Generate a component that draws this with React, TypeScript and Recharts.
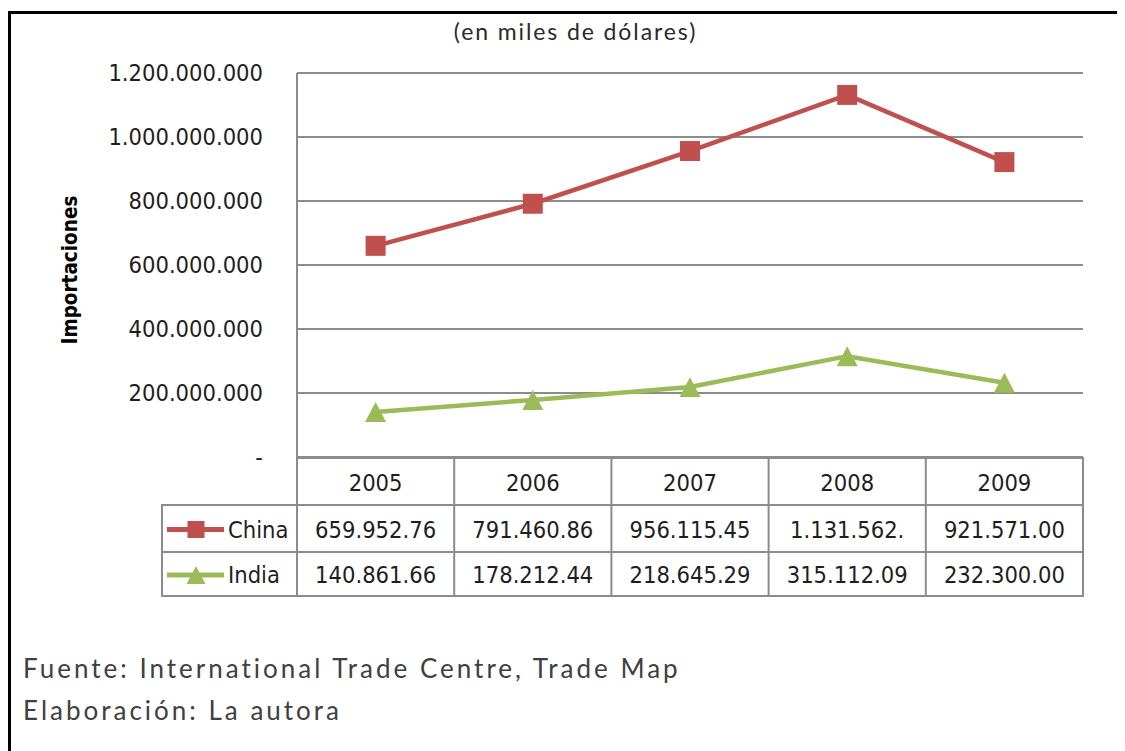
import React from 'react';
import { LineChart, Line, XAxis, YAxis, CartesianGrid } from 'recharts';

// ---- data ----
const years = ['2005', '2006', '2007', '2008', '2009'];
const china = [659952760, 791460860, 956115450, 1131562000, 921571000];
const india = [140861660, 178212440, 218645290, 315112090, 232300000];
const yTicks = [0, 200000000, 400000000, 600000000, 800000000, 1000000000, 1200000000];
const seriesNames = ['China', 'India'];
const titleText = '(en miles de dólares)';
const yLabel = 'Importaciones';
const footerLines = ['Fuente: International Trade Centre, Trade Map', 'Elaboración: La autora'];

const data = years.map((y, i) => ({ year: y, China: china[i], India: india[i] }));

// ---- layout ----
const W = 1117;
const H = 600;
const M = { top: 65, right: 42, left: 69, bottom: 6 };
const Y_W = 220;
const X_H = 145;
const PLOT_W = W - M.left - M.right - Y_W;
const BW = PLOT_W / years.length;
const HEADER_W = 135;

const CHINA_COLOR = '#C0504D';
const INDIA_COLOR = '#9BBB59';
const GRID = '#8c8c8c';
const FONT = "'DejaVu Sans Condensed', 'Noto Sans', sans-serif";
const FS = 23.5;
const TEXT = '#1e1e1e';

const fmt = (v: number) => (v === 0 ? '-' : String(v).replace(/\B(?=(\d{3})+(?!\d))/g, '.'));
const cell = (v: number) => fmt(v).slice(0, 10);

const Square = ({ cx, cy, s, color }: any) => (
  <rect x={cx - s / 2} y={cy - s / 2} width={s} height={s} fill={color} />
);
const Tri = ({ cx, cy, s, color }: any) => (
  <path
    d={`M${cx},${cy - s * 0.47} L${cx + s / 2},${cy + s * 0.48} L${cx - s / 2},${cy + s * 0.48} Z`}
    fill={color}
  />
);

const SquareDot = (p: any) =>
  p.cx == null ? <g key={p.key} /> : <Square key={p.key} cx={p.cx} cy={p.cy} s={20} color={CHINA_COLOR} />;
const TriDot = (p: any) =>
  p.cx == null ? <g key={p.key} /> : <Tri key={p.key} cx={p.cx} cy={p.cy} s={21} color={INDIA_COLOR} />;

const TableTick = (props: any) => {
  const { x, y, index } = props;
  const left = x - BW / 2;
  const right = x + BW / 2;
  const r0 = y + 1;
  const r1 = r0 + 47;
  const r2 = r1 + 47;
  const r3 = r2 + 44;
  const ln = { stroke: GRID, strokeWidth: 2 };
  const txt = (tx: number, ty: number, s: string, anchor: any = 'middle') => (
    <text x={tx} y={ty + 8.5} textAnchor={anchor} fontFamily={FONT} fontSize={FS} fill={TEXT}>
      {s}
    </text>
  );
  const rows = [china, india];
  return (
    <g>
      <line x1={left} x2={right} y1={r0} y2={r0} {...ln} />
      <line x1={left} x2={right} y1={r1} y2={r1} {...ln} />
      <line x1={left} x2={right} y1={r2} y2={r2} {...ln} />
      <line x1={left} x2={right} y1={r3} y2={r3} {...ln} />
      <line x1={left} x2={left} y1={r0 - 1} y2={r3 + 1} {...ln} />
      {index === years.length - 1 && <line x1={right} x2={right} y1={r0 - 1} y2={r3 + 1} {...ln} />}
      {txt(x, (r0 + r1) / 2 + 1, years[index])}
      {txt(x, (r1 + r2) / 2 + 1, cell(rows[0][index]))}
      {txt(x, (r2 + r3) / 2, cell(rows[1][index]))}
      {index === 0 && (
        <g>
          <line x1={left - HEADER_W} x2={left} y1={r1} y2={r1} {...ln} />
          <line x1={left - HEADER_W} x2={left} y1={r2} y2={r2} {...ln} />
          <line x1={left - HEADER_W} x2={left} y1={r3} y2={r3} {...ln} />
          <line x1={left - HEADER_W} x2={left - HEADER_W} y1={r1 - 1} y2={r3 + 1} {...ln} />
          <line x1={left - 130} x2={left - 73} y1={(r1 + r2) / 2 + 1} y2={(r1 + r2) / 2 + 1} stroke={CHINA_COLOR} strokeWidth={5} />
          <Square cx={left - 101} cy={(r1 + r2) / 2 + 1} s={17} color={CHINA_COLOR} />
          {txt(left - 69, (r1 + r2) / 2 + 1, seriesNames[0], 'start')}
          <line x1={left - 130} x2={left - 73} y1={(r2 + r3) / 2 + 1} y2={(r2 + r3) / 2 + 1} stroke={INDIA_COLOR} strokeWidth={5} />
          <Tri cx={left - 101} cy={(r2 + r3) / 2 + 1} s={19} color={INDIA_COLOR} />
          {txt(left - 69, (r2 + r3) / 2, seriesNames[1], 'start')}
        </g>
      )}
    </g>
  );
};

export default function App() {
  return (
    <div style={{ position: 'relative', width: W, height: 743, overflow: 'hidden', background: '#fff' }}>
      <div
        style={{
          position: 'absolute',
          left: 0,
          top: 3,
          width: W + 10,
          height: 760,
          borderTop: '3px solid #000',
          borderLeft: '3px solid #000',
          boxSizing: 'border-box',
        }}
      />
      <div
        style={{
          position: 'absolute',
          left: 0,
          top: 9,
          width: 1135,
          textAlign: 'center',
          fontFamily: 'Lato, sans-serif',
          fontSize: 23,
          letterSpacing: 1.9,
          color: '#2a2a2a',
          lineHeight: '28px',
        }}
      >
        {titleText}
      </div>
      <div
        style={{
          position: 'absolute',
          left: 62 - 100,
          top: 262 - 14,
          width: 200,
          height: 28,
          lineHeight: '28px',
          textAlign: 'center',
          transform: 'rotate(-90deg)',
          fontFamily: FONT,
          fontWeight: 'bold',
          fontSize: 20.5,
          color: '#000',
        }}
      >
        {yLabel}
      </div>
      <div style={{ position: 'absolute', left: 0, top: 0 }}>
        <LineChart width={W} height={H} data={data} margin={M}>
          <CartesianGrid vertical={false} stroke={GRID} strokeWidth={2} />
          <XAxis
            dataKey="year"
            scale="band"
            axisLine={false}
            tickLine={false}
            tickSize={0}
            tickMargin={0}
            height={X_H}
            interval={0}
            tick={<TableTick />}
          />
          <YAxis
            width={Y_W}
            domain={[0, 1200000000]}
            ticks={yTicks}
            interval={0}
            tickFormatter={fmt}
            axisLine={{ stroke: GRID, strokeWidth: 2 }}
            tickLine={false}
            tickSize={0}
            tickMargin={34}
            tick={{ fontFamily: FONT, fontSize: FS, fill: TEXT }}
          />
          <Line
            dataKey="China"
            stroke={CHINA_COLOR}
            strokeWidth={4.5}
            dot={<SquareDot />}
            activeDot={false}
            isAnimationActive={false}
          />
          <Line
            dataKey="India"
            stroke={INDIA_COLOR}
            strokeWidth={4.5}
            dot={<TriDot />}
            activeDot={false}
            isAnimationActive={false}
          />
        </LineChart>
      </div>
      {footerLines.map((s, i) => (
        <div
          key={s}
          style={{
            position: 'absolute',
            left: 15,
            top: 644 + i * 42,
            fontFamily: 'Lato, sans-serif',
            fontSize: 26,
            letterSpacing: 3,
            color: '#404040',
            lineHeight: '32px',
            whiteSpace: 'nowrap',
          }}
        >
          {s}
        </div>
      ))}
    </div>
  );
}
